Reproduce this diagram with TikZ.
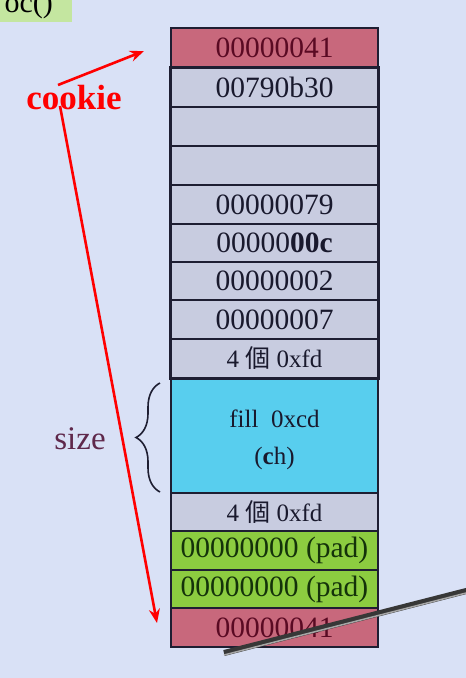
\documentclass[tikz,border=0pt]{standalone}
\usepackage{fontspec}
\setmainfont{Liberation Serif}
\newfontfamily\cjk{Noto Sans CJK TC}
\usetikzlibrary{arrows.meta,decorations.pathreplacing}
\definecolor{bgc}{RGB}{217,225,246}
\definecolor{grayrow}{RGB}{200,204,224}
\definecolor{redrow}{RGB}{200,104,124}
\definecolor{redtext}{RGB}{90,10,35}
\definecolor{cyanrow}{RGB}{88,206,238}
\definecolor{greenrow}{RGB}{140,204,64}
\definecolor{greentext}{RGB}{20,50,10}
\definecolor{navytext}{RGB}{25,25,45}
\definecolor{cellline}{RGB}{30,30,50}
\definecolor{sizetext}{RGB}{95,40,75}
\definecolor{labelgreen}{RGB}{196,230,160}
\definecolor{penc}{RGB}{55,55,55}
\tikzset{
  cell/.style={draw=cellline, line width=1.2pt, minimum width=207pt, inner sep=0pt, text=navytext, font=\fontsize{29.5}{31}\selectfont},
  grayc/.style={cell, fill=grayrow},
  redc/.style={cell, fill=redrow, text=redtext},
  greenc/.style={cell, fill=greenrow, text=greentext},
  cyanc/.style={cell, fill=cyanrow},
  cyantext/.style={text=navytext, font=\fontsize{25}{37}\selectfont, align=center, inner sep=0pt},
  smallc/.style={font=\fontsize{25}{27}\selectfont},
  redarrow/.style={draw=red, line width=2.6pt, -{Stealth[length=14pt,width=11pt]}},
}
\begin{document}
\begin{tikzpicture}[x=1pt,y=-1pt]
\useasboundingbox (0,0) rectangle (466,678);
\fill[bgc] (0,0) rectangle (466,678);
% top-left partial label
\begin{scope}
\clip (0,0) rectangle (466,678);
\fill[labelgreen] (-5,-5) rectangle (72,22);
\node[anchor=base east, inner sep=0pt, font=\fontsize{30}{32}\selectfont, text=black] (lbl) at (53,12) {oc()};
\end{scope}
% rows
\node[redc, minimum height=40pt] (r1) at (274.5,48) {00000041};
\node[grayc, minimum height=39pt] (r2) at (274.5,87.5) {00790b30};
\node[grayc, minimum height=39pt] (r3) at (274.5,126.5) {};
\node[grayc, minimum height=39pt] (r4) at (274.5,165.5) {};
\node[grayc, minimum height=39pt] (r5) at (274.5,204.5) {00000079};
\node[grayc, minimum height=38pt] (r6) at (274.5,243) {00000\textbf{00c}};
\node[grayc, minimum height=38pt] (r7) at (274.5,281) {00000002};
\node[grayc, minimum height=39pt] (r8) at (274.5,319.5) {00000007};
\node[grayc, smallc, minimum height=39pt] (r9) at (274.5,358.5) {4 {\cjk 個} 0xfd};
\node[cyanc, minimum height=115pt] (r10) at (274.5,435.5) {};
\node[cyantext] (r10t) at (274.5,440) {fill\ \ 0xcd\\(\textbf{c}h)};
\node[grayc, smallc, minimum height=38pt] (r11) at (274.5,512) {4 {\cjk 個} 0xfd};
\node[greenc, minimum height=39pt] (r12) at (274.5,550.5) {00000000 (pad)};
\node[greenc, minimum height=38pt] (r13) at (274.5,589) {00000000 (pad)};
\node[redc, minimum height=39pt] (r14) at (274.5,627.5) {00000041};
% thick frame
\draw[cellline, line width=3pt] (r2.north west) rectangle (r9.south east);
% brace and size
\draw[decorate, decoration={brace, amplitude=24pt}, line width=1.6pt, cellline] (160,492) -- (160,383);
\node[text=sizetext, font=\fontsize{33}{35}\selectfont] (size) at (80,439) {size};
% cookie
\node[text=red, font=\bfseries\fontsize{35}{37}\selectfont] (cookie) at (74,98) {cookie};
\coordinate (a1s) at (58,85);
\coordinate (a1e) at (144,51);
\coordinate (a2s) at (60,106);
\coordinate (a2e) at (157,623);
\draw[redarrow] (a1s) -- (a1e);
\draw[redarrow] (a2s) -- (a2e);
% pen
\coordinate (p1) at (224,653);
\coordinate (p2) at (470,590);
\draw[penc, line width=6pt] (p1) -- (p2);
\draw[gray!70, line width=1.5pt] ([yshift=-2pt]p1) -- ([yshift=-2pt]p2);
\end{tikzpicture}
\end{document}
